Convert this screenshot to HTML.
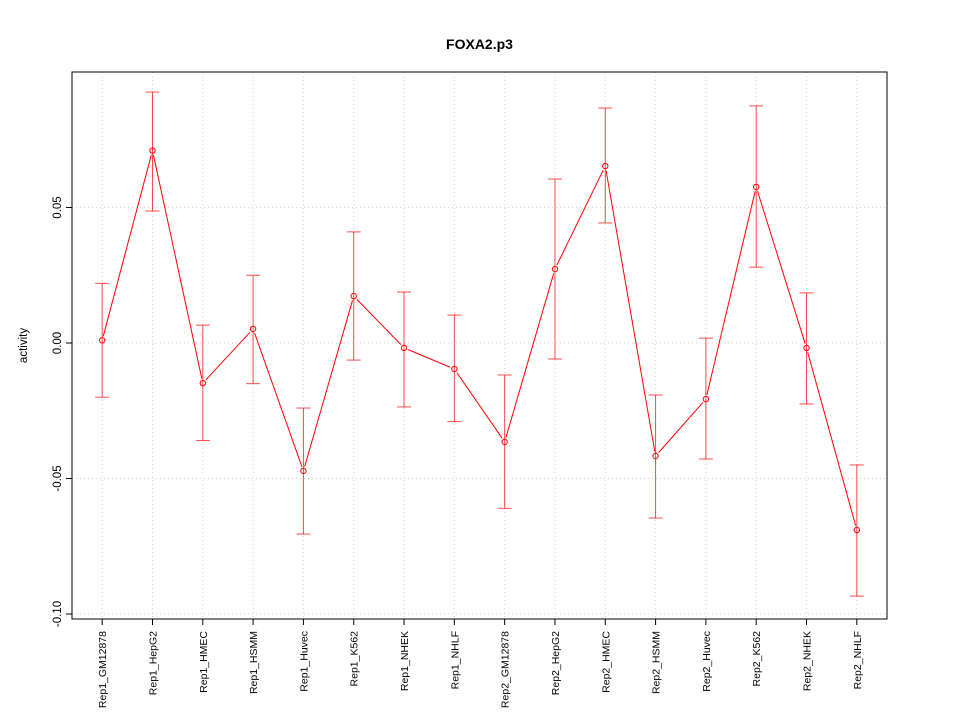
<!DOCTYPE html>
<html><head><meta charset="utf-8"><style>
body{margin:0;background:#fff;}
svg{display:block;font-family:"Liberation Sans",sans-serif;}
</style></head><body>
<svg id="chart" width="960" height="720" xmlns="http://www.w3.org/2000/svg"></svg>
<script>
const categories=["Rep1_GM12878","Rep1_HepG2","Rep1_HMEC","Rep1_HSMM","Rep1_Huvec","Rep1_K562","Rep1_NHEK","Rep1_NHLF","Rep2_GM12878","Rep2_HepG2","Rep2_HMEC","Rep2_HSMM","Rep2_Huvec","Rep2_K562","Rep2_NHEK","Rep2_NHLF"];
const values=[0.001,0.071,-0.0148,0.0052,-0.0472,0.0173,-0.0018,-0.0096,-0.0365,0.0273,0.0653,-0.0417,-0.0207,0.0576,-0.0018,-0.069];
const upper=[0.022,0.0926,0.0066,0.025,-0.024,0.041,0.0188,0.0103,-0.0118,0.0605,0.0867,-0.0192,0.0018,0.0875,0.0185,-0.045];
const lower=[-0.020,0.0487,-0.036,-0.015,-0.0705,-0.0063,-0.0236,-0.029,-0.061,-0.0059,0.0443,-0.0646,-0.0428,0.028,-0.0225,-0.0934];
const yTicks=[-0.10,-0.05,0.00,0.05];
const yTickLabels=["-0.10","-0.05","0.00","0.05"];

const L=72,R=887,T=72,B=619;
const svg=document.getElementById('chart');
const NS="http://www.w3.org/2000/svg";
function xs(i){return L+(i+0.6)*(R-L)/16.2;}
function ys(v){return 343-v*2710;}
function el(tag,attrs,parent){const e=document.createElementNS(NS,tag);for(const k in attrs)e.setAttribute(k,attrs[k]);(parent||svg).appendChild(e);return e;}

categories.forEach((c,i)=>{
  const g=el('line',{x1:xs(i),x2:xs(i),y1:T,y2:B,stroke:'#d3d3d3','stroke-dasharray':'1,3'});
  
  
});
yTicks.forEach(v=>{
  const g=el('line',{x1:L,x2:R,y1:ys(v),y2:ys(v),stroke:'#d3d3d3','stroke-dasharray':'1,3'});
  
  
});
const fr=el('rect',{x:L,y:T,width:R-L,height:B-T,fill:'none',stroke:'#000'});


yTicks.forEach((v,i)=>{
  el('line',{x1:L-6,x2:L,y1:ys(v),y2:ys(v),stroke:'#000'});
  const t=el('text',{x:0,y:0,'font-size':11.5,'text-anchor':'middle',transform:`translate(${L-11},${ys(v)}) rotate(-90)`});
  t.textContent=yTickLabels[i];
  
  
});
categories.forEach((c,i)=>{
  el('line',{x1:xs(i),x2:xs(i),y1:B,y2:B+6,stroke:'#000'});
  const t=el('text',{x:0,y:0,'font-size':10.5,'text-anchor':'end',transform:`translate(${xs(i)+4},${B+12}) rotate(-90)`});
  t.textContent=c;
  
  
});
categories.forEach((c,i)=>{
  const x=xs(i);
  const g=el('g',{stroke:'#ff0000','stroke-width':1,'stroke-opacity':0.7});
  
  
  el('line',{x1:x,x2:x,y1:ys(upper[i]),y2:ys(lower[i])},g);
  el('line',{x1:x-7,x2:x+7,y1:ys(upper[i]),y2:ys(upper[i])},g);
  el('line',{x1:x-7,x2:x+7,y1:ys(lower[i]),y2:ys(lower[i])},g);
});
// line segments with gaps around points (type "b")
for(let i=0;i<values.length-1;i++){
  const x1=xs(i),y1=ys(values[i]),x2=xs(i+1),y2=ys(values[i+1]);
  const d=Math.hypot(x2-x1,y2-y1),g=4.5;
  const s=el('line',{x1:x1+(x2-x1)*g/d,y1:y1+(y2-y1)*g/d,x2:x2-(x2-x1)*g/d,y2:y2-(y2-y1)*g/d,stroke:'#ff0000'});
  
  
}
values.forEach((v,i)=>{
  const c=el('circle',{cx:xs(i),cy:ys(v),r:2.7,fill:'none',stroke:'#ff0000'});
  
  
});
const tt=el('text',{x:(L+R)/2,y:49,'font-size':14,'font-weight':'bold','text-anchor':'middle'});
tt.textContent='FOXA2.p3';


const yt=el('text',{x:0,y:0,'font-size':11.5,'text-anchor':'middle',transform:`translate(27,${(T+B)/2}) rotate(-90)`});
yt.textContent='activity';


</script>
</body></html>
